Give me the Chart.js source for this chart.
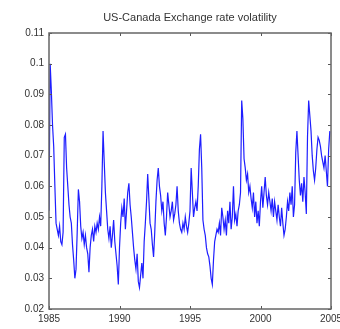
<!DOCTYPE html>
<html>
<head>
<meta charset="utf-8">
<script src="https://cdn.jsdelivr.net/npm/chart.js@4/dist/chart.umd.min.js"></script>
<style>
  html, body { margin: 0; padding: 0; background: #fff; }
  #wrap { width: 340px; height: 329px; }
</style>
</head>
<body>
<div id="wrap"><canvas id="volChart" width="340" height="329"></canvas></div>
<script>
// Monthly volatility readings, Jan 1985 .. Dec 2004
const startYear = 1985;
const volatility = [
  // 1985
  0.052, 0.100, 0.091, 0.080, 0.073, 0.060, 0.048, 0.046, 0.044, 0.047, 0.042, 0.041,
  // 1986
  0.045, 0.076, 0.077, 0.066, 0.060, 0.054, 0.050, 0.048, 0.041, 0.036, 0.030, 0.033,
  // 1987
  0.045, 0.059, 0.055, 0.047, 0.043, 0.045, 0.041, 0.044, 0.040, 0.038, 0.032, 0.040,
  // 1988
  0.044, 0.046, 0.042, 0.047, 0.045, 0.048, 0.046, 0.050, 0.047, 0.060, 0.078, 0.068,
  // 1989
  0.058, 0.052, 0.046, 0.043, 0.047, 0.040, 0.044, 0.049, 0.042, 0.038, 0.034, 0.028,
  // 1990
  0.040, 0.048, 0.053, 0.050, 0.056, 0.046, 0.052, 0.058, 0.061, 0.054, 0.050, 0.045,
  // 1991
  0.040, 0.036, 0.033, 0.038, 0.029, 0.027, 0.031, 0.035, 0.030, 0.042, 0.048, 0.055,
  // 1992
  0.064, 0.056, 0.048, 0.046, 0.041, 0.037, 0.045, 0.055, 0.062, 0.066, 0.060, 0.057,
  // 1993
  0.052, 0.055, 0.048, 0.044, 0.050, 0.058, 0.054, 0.050, 0.052, 0.055, 0.049, 0.051,
  // 1994
  0.054, 0.060, 0.052, 0.048, 0.046, 0.045, 0.048, 0.046, 0.050, 0.047, 0.045, 0.048,
  // 1995
  0.052, 0.066, 0.058, 0.050, 0.053, 0.055, 0.052, 0.060, 0.072, 0.077, 0.066, 0.049,
  // 1996
  0.046, 0.044, 0.040, 0.038, 0.037, 0.034, 0.030, 0.028, 0.036, 0.042, 0.044, 0.046,
  // 1997
  0.045, 0.048, 0.044, 0.053, 0.050, 0.046, 0.049, 0.044, 0.052, 0.048, 0.055, 0.046,
  // 1998
  0.050, 0.060, 0.049, 0.051, 0.047, 0.052, 0.054, 0.058, 0.088, 0.082, 0.069, 0.066,
  // 1999
  0.062, 0.064, 0.058, 0.060, 0.056, 0.053, 0.058, 0.050, 0.055, 0.048, 0.052, 0.047,
  // 2000
  0.055, 0.060, 0.053, 0.058, 0.063, 0.057, 0.054, 0.058, 0.055, 0.052, 0.056, 0.050,
  // 2001
  0.055, 0.052, 0.049, 0.054, 0.050, 0.047, 0.053, 0.048, 0.044, 0.046, 0.050, 0.055,
  // 2002
  0.052, 0.058, 0.054, 0.060, 0.050, 0.054, 0.071, 0.078, 0.070, 0.062, 0.057, 0.061,
  // 2003
  0.055, 0.063, 0.058, 0.051, 0.076, 0.088, 0.083, 0.078, 0.070, 0.065, 0.062, 0.066,
  // 2004
  0.072, 0.076, 0.075, 0.073, 0.070, 0.068, 0.066, 0.070, 0.065, 0.060, 0.072, 0.078
];
const xTicks = [1985, 1990, 1995, 2000, 2005];
const yTicks = [0.02, 0.03, 0.04, 0.05, 0.06, 0.07, 0.08, 0.09, 0.1, 0.11];
const chartTitle = 'US-Canada Exchange rate volatility';

const points = volatility.map(function(v, i) {
  return { x: startYear + i / 12, y: v };
});

// Matlab-like box with inward tick marks on all four sides, title centred on the axes
const boxPlugin = {
  id: 'boxTicks',
  afterDatasetsDraw: function(chart) {
    const ctx = chart.ctx;
    const a = chart.chartArea;
    const xs = chart.scales.x;
    const ys = chart.scales.y;
    const len = 3;
    ctx.save();
    ctx.strokeStyle = '#555';
    ctx.lineWidth = 1;
    ctx.beginPath();
    xTicks.forEach(function(t) {
      const px = Math.round(xs.getPixelForValue(t)) + 0.5;
      ctx.moveTo(px, a.bottom); ctx.lineTo(px, a.bottom - len);
      ctx.moveTo(px, a.top); ctx.lineTo(px, a.top + len);
    });
    yTicks.forEach(function(t) {
      const py = Math.round(ys.getPixelForValue(t)) + 0.5;
      ctx.moveTo(a.left, py); ctx.lineTo(a.left + len, py);
      ctx.moveTo(a.right, py); ctx.lineTo(a.right - len, py);
    });
    ctx.stroke();
    ctx.strokeStyle = '#666';
    ctx.lineWidth = 1.5;
    ctx.strokeRect(a.left, a.top, a.right - a.left, a.bottom - a.top);

    ctx.fillStyle = '#333';
    ctx.font = '11px "Liberation Sans"';
    ctx.textAlign = 'center';
    ctx.textBaseline = 'middle';
    ctx.fillText(chartTitle, (a.left + a.right) / 2, 18);
    ctx.restore();
  }
};

const ctx = document.getElementById('volChart');
new Chart(ctx, {
  type: 'line',
  data: {
    datasets: [{
      data: points,
      borderColor: 'rgb(30, 30, 255)',
      borderWidth: 1.2,
      pointRadius: 0,
      tension: 0,
      fill: false
    }]
  },
  options: {
    responsive: false,
    animation: false,
    layout: { padding: { left: 0, right: 9, top: 33, bottom: 0 } },
    plugins: {
      legend: { display: false },
      tooltip: { enabled: false },
      title: { display: false }
    },
    scales: {
      x: {
        type: 'linear',
        min: 1985,
        max: 2005,
        afterBuildTicks: function(scale) {
          scale.ticks = xTicks.map(function(v) { return { value: v }; });
        },
        afterFit: function(scale) {
          scale.height = 20;
          scale.paddingLeft = 0;
          scale.paddingRight = 0;
        },
        grid: { display: false, drawTicks: false },
        border: { display: false },
        ticks: {
          color: '#333',
          padding: 4,
          maxRotation: 0,
          font: { family: 'Liberation Sans', size: 10 },
          callback: function(v) { return String(v); }
        }
      },
      y: {
        min: 0.02,
        max: 0.11,
        afterBuildTicks: function(scale) {
          scale.ticks = yTicks.map(function(v) { return { value: v }; });
        },
        afterFit: function(scale) {
          scale.width = 49;
          scale.paddingTop = 0;
          scale.paddingBottom = 0;
        },
        grid: { display: false, drawTicks: false },
        border: { display: false },
        ticks: {
          color: '#333',
          padding: 5,
          font: { family: 'Liberation Sans', size: 10 },
          callback: function(v) { return String(parseFloat(Number(v).toFixed(2))); }
        }
      }
    }
  },
  plugins: [boxPlugin]
});
</script>
</body>
</html>
